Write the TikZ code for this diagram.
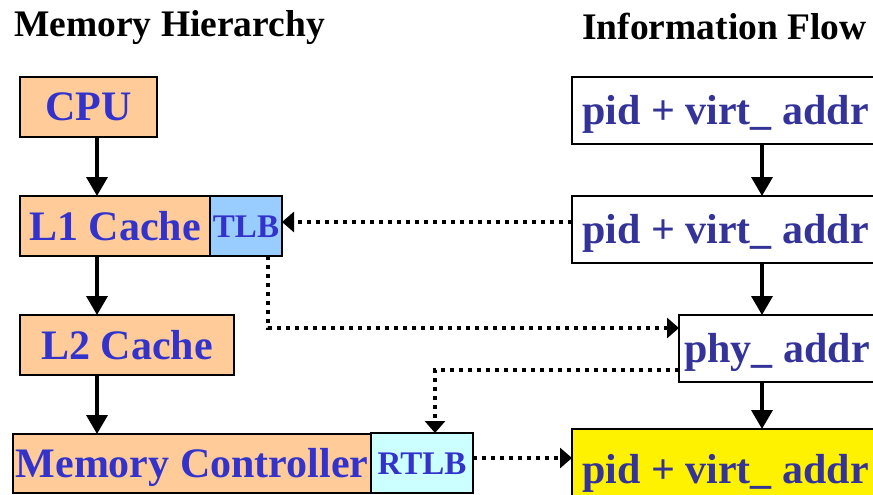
\documentclass[tikz,border=0pt]{standalone}
\usepackage{fontspec}
\setmainfont{Liberation Serif}
\usetikzlibrary{arrows.meta}
\definecolor{boxorange}{HTML}{FFCC99}
\definecolor{tlbblue}{HTML}{99CCFF}
\definecolor{rtlbcyan}{HTML}{CCFFFF}
\definecolor{leftblue}{HTML}{3333CC}
\definecolor{rightblue}{HTML}{333399}
\begin{document}
\begin{tikzpicture}[x=1pt,y=-1pt,
  box/.style={draw=black, line width=2pt, inner sep=0pt, outer sep=0pt, anchor=north west,
    font=\bfseries\fontsize{42pt}{42pt}\selectfont, text height=28pt, text depth=0pt},
  leftbox/.style={box, fill=boxorange, text=leftblue},
  rightbox/.style={box, fill=white, text=rightblue},
  smallbox/.style={box, font=\bfseries\fontsize{33pt}{33pt}\selectfont, text height=22pt, text=leftblue},
  title/.style={anchor=base west, inner sep=0pt, font=\bfseries\fontsize{37.5pt}{37.5pt}\selectfont},
  flow/.style={line width=3.5pt, -{Triangle[length=19pt,width=21pt]}},
  dotflow/.style={line width=4pt, dash pattern=on 4pt off 5pt, -{Triangle[length=12pt,width=20pt]}}
]
\useasboundingbox (0,0) rectangle (873,495);

\node[title] (t1) at (14,37) {Memory Hierarchy};
\node[title] (t2) at (582,40) {Information Flow};

\node[leftbox, minimum width=137pt, minimum height=60pt] (cpu) at (20,77) {CPU};
\node[leftbox, minimum width=190pt, minimum height=60pt] (l1) at (20,196) {L1 Cache};
\node[smallbox, fill=tlbblue, minimum width=72pt, minimum height=60pt] (tlb) at (210,196) {TLB};
\node[leftbox, minimum width=214pt, minimum height=60pt] (l2) at (20,315) {L2 Cache};
\node[leftbox, minimum width=358pt, minimum height=59pt] (mc) at (13,434) {Memory Controller};
\node[smallbox, fill=rtlbcyan, minimum width=102pt, minimum height=60pt] (rtlb) at (371,433) {RTLB};

\node[rightbox, minimum width=307pt, minimum height=67pt] (r1) at (572,77) {pid + virt\_ addr};
\node[rightbox, minimum width=307pt, minimum height=67pt] (r2) at (572,196) {pid + virt\_ addr};
\node[rightbox, minimum width=196pt, minimum height=67pt] (phy) at (679,315) {phy\_ addr};
\node[rightbox, fill=yellow, minimum width=307pt, minimum height=80pt] (yel) at (572,429) {pid + virt\_ addr};

\coordinate (ax) at (97,0);
\coordinate (bx) at (762,0);
\coordinate (d1) at (0,222);
\coordinate (d2x) at (268,0);
\coordinate (d2) at (0,328);
\coordinate (d3) at (0,370);
\coordinate (d3x) at (435,0);
\coordinate (d4) at (0,458);

\draw[flow] (ax |- cpu.south) -- (ax |- l1.north);
\draw[flow] (ax |- l1.south) -- (ax |- l2.north);
\draw[flow] (ax |- l2.south) -- (ax |- mc.north);

\draw[flow] (bx |- r1.south) -- (bx |- r2.north);
\draw[flow] (bx |- r2.south) -- (bx |- phy.north);
\draw[flow] (bx |- phy.south) -- (bx |- yel.north);

\draw[dotflow] (r2.west |- d1) -- (tlb.east |- d1);
\draw[dotflow] (d2x |- tlb.south) |- (phy.west |- d2);
\draw[dotflow] (phy.west |- d3) -| (d3x |- rtlb.north);
\draw[dotflow] (rtlb.east |- d4) -- (yel.west |- d4);
\end{tikzpicture}
\end{document}
